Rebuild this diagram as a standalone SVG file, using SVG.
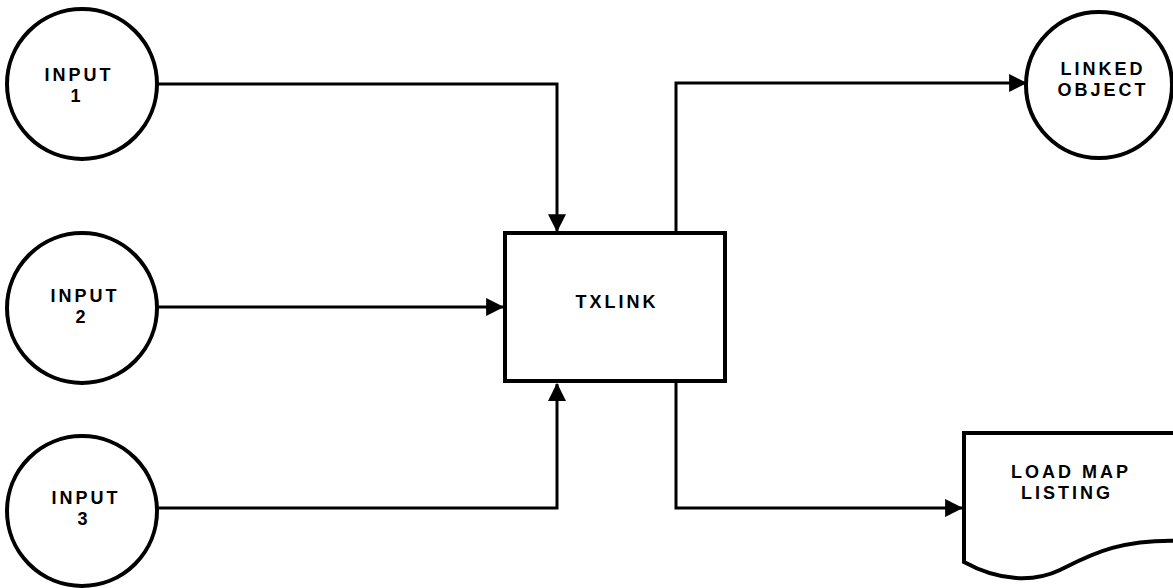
<svg xmlns="http://www.w3.org/2000/svg" width="1173" height="588" viewBox="0 0 1173 588">
<style>
.shape{fill:#fff;stroke:#000;stroke-width:4}
.conn{fill:none;stroke:#000;stroke-width:3}
text{font-family:"Liberation Sans",Arial,sans-serif;font-weight:bold;font-size:18px;letter-spacing:3px;fill:#000;text-anchor:middle}
</style>
<defs>
<marker id="arr" markerUnits="userSpaceOnUse" markerWidth="18" markerHeight="18" viewBox="0 0 16 16" refX="15" refY="8" orient="auto">
<path d="M0,0 L16,8 L0,16 Z" fill="#000"/>
</marker>
</defs>
<rect width="1173" height="588" fill="#fff"/>
<g id="connectors">
<path class="conn" d="M157,84 H557 V231" marker-end="url(#arr)"/>
<path class="conn" d="M157,307 H503" marker-end="url(#arr)"/>
<path class="conn" d="M157,508 H557 V384" marker-end="url(#arr)"/>
<path class="conn" d="M676,233 V83 H1026" marker-end="url(#arr)"/>
<path class="conn" d="M676,381 V508 H962" marker-end="url(#arr)"/>
</g>
<g id="input1">
<circle class="shape" cx="82" cy="84" r="75"/>
<text x="79" y="81">INPUT</text>
<text x="77" y="102">1</text>
</g>
<g id="input2">
<circle class="shape" cx="82" cy="308" r="75"/>
<text x="85" y="302">INPUT</text>
<text x="82" y="323">2</text>
</g>
<g id="input3">
<circle class="shape" cx="82" cy="511" r="75"/>
<text x="86" y="504">INPUT</text>
<text x="84" y="525">3</text>
</g>
<g id="txlink">
<rect class="shape" x="505" y="233" width="220" height="148"/>
<text x="617" y="308">TXLINK</text>
</g>
<g id="linked-object">
<circle class="shape" cx="1099" cy="85" r="73"/>
<text x="1103" y="75">LINKED</text>
<text x="1103" y="96">OBJECT</text>
</g>
<g id="load-map-listing">
<path class="shape" d="M964,433 H1185 V541 C1120,538 1090,555 1060,570 C1035,582 1000,582 964,562 Z"/>
<text x="1071" y="478">LOAD MAP</text>
<text x="1067" y="499">LISTING</text>
</g>
</svg>
